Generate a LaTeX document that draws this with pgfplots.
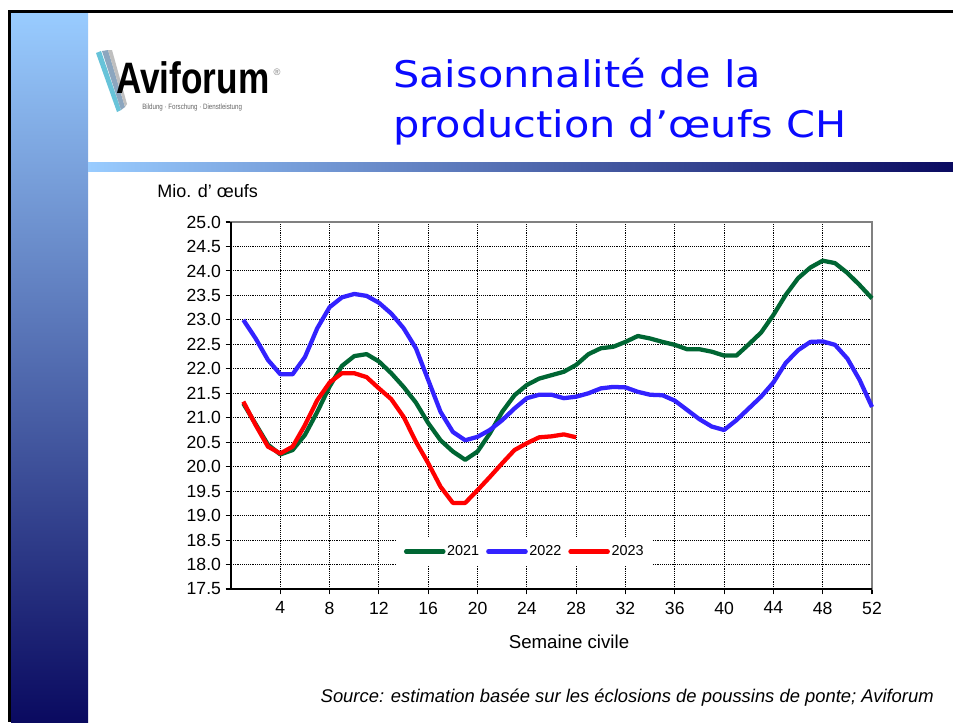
\documentclass[border=0pt]{standalone}
\usepackage{fontspec}
\setmainfont{Liberation Sans}
\newfontfamily\titlefont[FakeStretch=1.13]{DejaVu Sans}
\newfontfamily\logofont[FakeStretch=0.8]{Liberation Sans}
\usepackage{pgfplots}
\pgfplotsset{compat=1.18}
\definecolor{g21}{RGB}{0,102,51}
\definecolor{b22}{RGB}{51,34,255}
\definecolor{r23}{RGB}{255,0,0}
\definecolor{lightb}{RGB}{153,204,255}
\definecolor{navy}{RGB}{10,10,96}
\definecolor{titleblue}{RGB}{10,10,255}
\definecolor{framegray}{RGB}{128,128,128}

\pgfplotstableread{
w v
1 21.29
2 20.87
3 20.45
4 20.25
5 20.34
6 20.65
7 21.12
8 21.64
9 22.06
10 22.26
11 22.30
12 22.15
13 21.91
14 21.63
15 21.31
16 20.89
17 20.54
18 20.31
19 20.14
20 20.31
21 20.68
22 21.12
23 21.46
24 21.67
25 21.80
26 21.87
27 21.94
28 22.08
29 22.30
30 22.42
31 22.45
32 22.55
33 22.67
34 22.62
35 22.55
36 22.49
37 22.40
38 22.40
39 22.35
40 22.27
41 22.27
42 22.50
43 22.74
44 23.10
45 23.51
46 23.85
47 24.07
48 24.21
49 24.16
50 23.96
51 23.71
52 23.44
}\dataA

\pgfplotstableread{
w v
1 23.00
2 22.62
3 22.18
4 21.89
5 21.89
6 22.24
7 22.83
8 23.26
9 23.46
10 23.53
11 23.49
12 23.35
13 23.13
14 22.83
15 22.42
16 21.77
17 21.12
18 20.71
19 20.54
20 20.61
21 20.75
22 20.95
23 21.19
24 21.40
25 21.47
26 21.47
27 21.40
28 21.43
29 21.50
30 21.60
31 21.63
32 21.62
33 21.53
34 21.47
35 21.46
36 21.35
37 21.16
38 20.97
39 20.82
40 20.75
41 20.95
42 21.19
43 21.43
44 21.72
45 22.12
46 22.38
47 22.55
48 22.56
49 22.49
50 22.21
51 21.77
52 21.22
}\dataB

\pgfplotstableread{
w v
1 21.33
2 20.85
3 20.41
4 20.27
5 20.41
6 20.85
7 21.36
8 21.72
9 21.91
10 21.91
11 21.83
12 21.60
13 21.38
14 21.02
15 20.51
16 20.07
17 19.59
18 19.26
19 19.26
20 19.52
21 19.79
22 20.07
23 20.34
24 20.48
25 20.60
26 20.62
27 20.66
28 20.60
}\dataC

\begin{document}
\begin{tikzpicture}
\begin{scope}[x=0.75pt,y=0.75pt]
\path[use as bounding box] (0,0) rectangle (953,-722);
\fill[white] (0,0) rectangle (953,-722);
% left bar and top bar
\shade[top color=lightb, bottom color=navy] (11,-12) rectangle (88,-722);
\shade[left color=lightb, right color=navy] (88,-162) rectangle (953,-171);
\fill[black] (8,-10) rectangle (953,-12.5);
\fill[black] (8,-10) rectangle (11,-722);
% logo
\fill[lightb!60!cyan!70!gray] (96,-53) -- (101,-51) -- (121,-110) -- (117,-112) -- cycle;
\fill[lightb!50!gray] (102,-51) -- (108,-50) -- (125,-107) -- (121,-110) -- cycle;
\fill[gray!50] (108,-50) -- (112,-50) -- (127,-104) -- (125,-107) -- cycle;
\node[anchor=base west, inner sep=0pt, text=black] at (116,-93.3)
  {\logofont\bfseries\fontsize{33}{36}\selectfont Aviforum};
\node[anchor=center, inner sep=0pt, text=gray] at (277,-72)
  {\fontsize{7}{8}\selectfont ®};
\node[anchor=base west, inner sep=0pt, text=gray!80!black] at (142,-109)
  {\logofont\fontsize{5.8}{6}\selectfont Bildung · Forschung · Dienstleistung};
% title
\node[anchor=base west, inner sep=0pt, text=titleblue] at (393,-87.5)
  {\titlefont\fontsize{27.5}{30}\selectfont Saisonnalité de la};
\node[anchor=base west, inner sep=0pt, text=titleblue] at (393,-137.5)
  {\titlefont\fontsize{27.5}{30}\selectfont production d’œufs CH};
% labels
\node[anchor=base west, inner sep=0pt] at (157,-197.3)
  {\fontsize{13.5}{15}\selectfont Mio. d’ œufs};
\node[anchor=base, inner sep=0pt] at (569,-648)
  {\fontsize{14}{16}\selectfont Semaine civile};
\node[anchor=base east, inner sep=0pt] at (934,-702.7)
  {\fontsize{13.8}{16}\selectfont\itshape Source: estimation basée sur les éclosions de poussins de ponte; Aviforum};
\end{scope}

\begin{axis}[
  at={(173.25pt,-441.75pt)}, anchor=south west,
  scale only axis, width=480.75pt, height=275.25pt,
  xmin=0, xmax=52, ymin=17.5, ymax=25,
  xtick={4,8,12,16,20,24,28,32,36,40,44,48,52},
  ytick={17.5,18,18.5,19,19.5,20,20.5,21,21.5,22,22.5,23,23.5,24,24.5,25},
  yticklabel style={/pgf/number format/.cd, fixed, fixed zerofill, precision=1},
  /pgf/number format/assume math mode=true,
  tick label style={font=\fontsize{13.2}{15}\selectfont, text=black},
  xticklabel style={yshift=-2pt},
  tick align=outside, tick pos=left,
  major tick length=4pt,
  tick style={black, line width=0.8pt},
  grid=major,
  major grid style={black, line width=0.7pt, dash pattern=on 0.7pt off 0.7pt},
  axis line style={draw=framegray, line width=1.3pt},
  clip=false,
  legend columns=3,
  legend style={fill=white, draw=none, at={(0.458,0.102)}, anchor=center,
    font=\fontsize{10.8}{12}\selectfont, inner xsep=5pt, inner ysep=5pt,
    nodes={inner sep=1.2pt},
    /tikz/every even column/.append style={column sep=4pt}},
  legend cell align=left,
  legend image code/.code={\draw[#1, line cap=round] (0pt,0pt) -- (28pt,0pt);},
]
\addplot[g21, line width=3.2pt, line join=round] table[x=w,y=v] {\dataA};
\addlegendentry{2021}
\addplot[b22, line width=3.2pt, line join=round] table[x=w,y=v] {\dataB};
\addlegendentry{2022}
\addplot[r23, line width=3.2pt, line join=round] table[x=w,y=v] {\dataC};
\addlegendentry{2023}
\draw[black, line width=1.3pt] (rel axis cs:0,1) -- (rel axis cs:0,0) -- (rel axis cs:1,0);
\end{axis}
\end{tikzpicture}
\end{document}
